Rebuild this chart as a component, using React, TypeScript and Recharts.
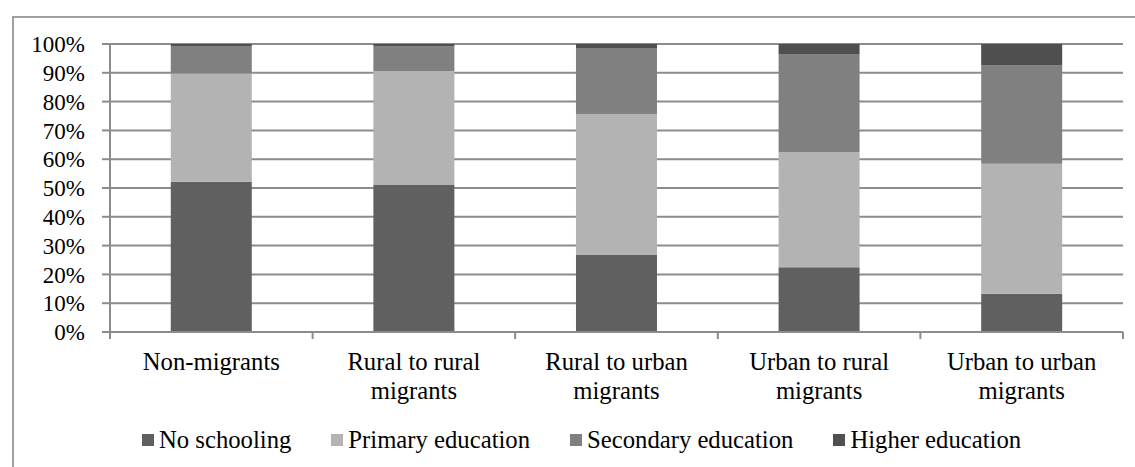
import React from 'react';
import { BarChart, Bar, XAxis, YAxis, CartesianGrid, Legend } from 'recharts';

const categories = [
  'Non-migrants',
  'Rural to rural migrants',
  'Rural to urban migrants',
  'Urban to rural migrants',
  'Urban to urban migrants',
];

const noSchooling = [52.2, 51.0, 26.7, 22.5, 13.3];
const primaryEducation = [37.6, 39.6, 49.0, 39.9, 45.1];
const secondaryEducation = [9.5, 8.5, 22.9, 34.1, 34.1];
const higherEducation = [0.7, 0.9, 1.4, 3.5, 7.5];

const yTicks = [0, 10, 20, 30, 40, 50, 60, 70, 80, 90, 100];

const seriesList = [
  { key: 'noSchooling', name: 'No schooling', color: '#606060' },
  { key: 'primary', name: 'Primary education', color: '#b3b3b3' },
  { key: 'secondary', name: 'Secondary education', color: '#808080' },
  { key: 'higher', name: 'Higher education', color: '#4f4f4f' },
];

const data = categories.map((name, i) => ({
  name,
  noSchooling: noSchooling[i],
  primary: primaryEducation[i],
  secondary: secondaryEducation[i],
  higher: higherEducation[i],
}));

const FONT = '"Liberation Serif", "Times New Roman", serif';
const LINE = '#8c8c8c';
const LABEL_SIZE = 24.7;

// category label, split before the last word, plus tick marks on the band edges
const CategoryTick = (props: any) => {
  const { x, y, payload, index, visibleTicksCount } = props;
  const half = payload.offset || 0;
  const words = String(payload.value).split(' ');
  const lines = words.length > 1 ? [words.slice(0, -1).join(' '), words[words.length - 1]] : words;
  const axisY = y - 8;
  return (
    <g>
      <line x1={x - half} x2={x - half} y1={axisY} y2={axisY + 7} stroke={LINE} strokeWidth={2} />
      {index === visibleTicksCount - 1 && (
        <line x1={x + half} x2={x + half} y1={axisY} y2={axisY + 7} stroke={LINE} strokeWidth={2} />
      )}
      <text x={x} y={y} textAnchor="middle" fontFamily={FONT} fontSize={LABEL_SIZE} fill="#000">
        {lines.map((line, i) => (
          <tspan key={i} x={x} y={y + 30 + i * 29}>
            {line}
          </tspan>
        ))}
      </text>
    </g>
  );
};

const LegendContent = () => (
  <div style={{ display: 'flex', gap: 40, paddingTop: 1, fontFamily: FONT, fontSize: LABEL_SIZE, lineHeight: '24px', color: '#000' }}>
    {seriesList.map((s) => (
      <div key={s.key} style={{ display: 'flex', alignItems: 'center', whiteSpace: 'nowrap' }}>
        <span style={{ display: 'inline-block', width: 12, height: 12, background: s.color, marginRight: 5 }} />
        <span>{s.name}</span>
      </div>
    ))}
  </div>
);

export default function App() {
  return (
    <div style={{ position: 'absolute', left: 0, top: 0, width: 1135, height: 467, overflow: 'hidden', background: '#fff' }}>
      <div style={{ position: 'absolute', left: 12, top: 16, width: 1200, height: 500, border: '2px solid #a0a0a0' }} />
      <div style={{ position: 'absolute', left: 0, top: 0 }}>
        <BarChart
          width={1135}
          height={467}
          data={data}
          margin={{ top: 44, right: 12, left: 0, bottom: 0 }}
          barCategoryGap="30%"
        >
          <CartesianGrid vertical={false} stroke={LINE} strokeWidth={2} />
          <XAxis
            dataKey="name"
            stroke={LINE}
            strokeWidth={2}
            tickLine={false}
            interval={0}
            height={95}
            tick={<CategoryTick />}
          />
          <YAxis
            domain={[0, 100]}
            ticks={yTicks}
            interval={0}
            width={110}
            tickSize={8}
            tickMargin={17}
            stroke={LINE}
            strokeWidth={2}
            tickFormatter={(v: number) => `${v}%`}
            tick={{ fill: '#000', fontFamily: FONT, fontSize: 23 }}
          />
          <Legend
            verticalAlign="bottom"
            content={<LegendContent />}
            wrapperStyle={{ left: 142, width: 980, height: 40, bottom: 0 }}
          />
          {seriesList.map((s) => (
            <Bar
              key={s.key}
              dataKey={s.key}
              name={s.name}
              stackId="a"
              fill={s.color}
              isAnimationActive={false}
            />
          ))}
        </BarChart>
      </div>
    </div>
  );
}
